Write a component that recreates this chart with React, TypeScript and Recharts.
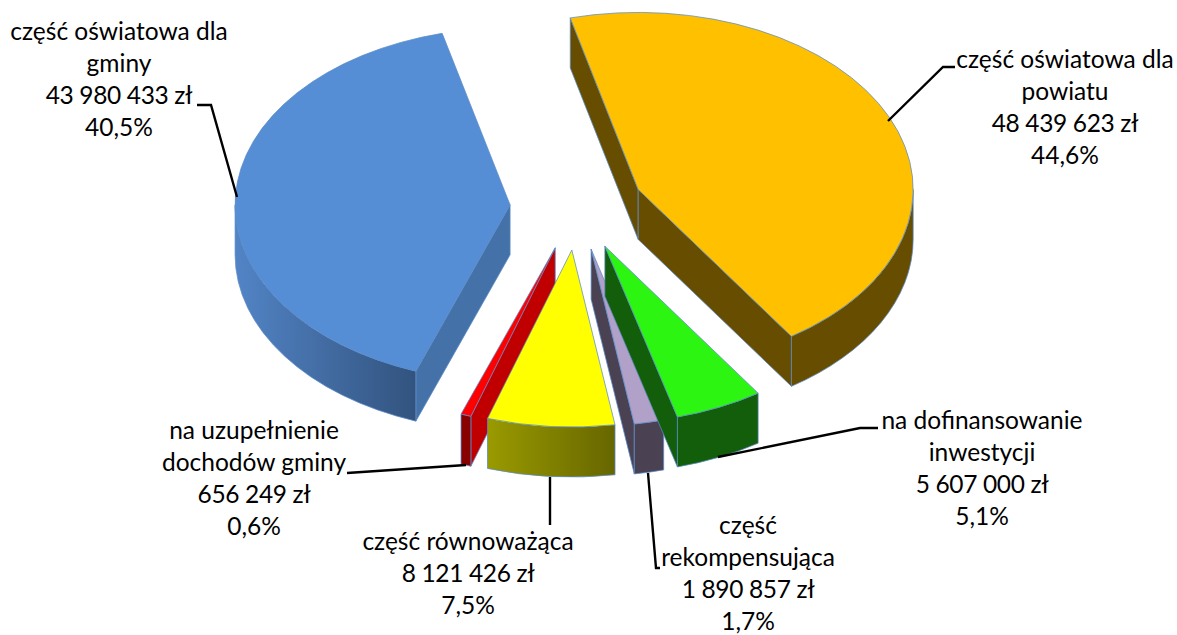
import React from "react";
import { PieChart, Pie } from "recharts";

// listed back to front, so the slices paint over each other as in a 3D pie
const categories = [
  "część oświatowa dla gminy",
  "na uzupełnienie dochodów gminy",
  "część równoważąca",
  "część rekompensująca",
  "na dofinansowanie inwestycji",
  "część oświatowa dla powiatu",
];
const values = [43980433, 656249, 8121426, 1890857, 5607000, 48439623];
const amountLabels = ["43 980 433 zł", "656 249 zł", "8 121 426 zł", "1 890 857 zł", "5 607 000 zł", "48 439 623 zł"];
const percentLabels = ["40,5%", "0,6%", "7,5%", "1,7%", "5,1%", "44,6%"];
const nameLines = [
  ["część oświatowa dla", "gminy"],
  ["na uzupełnienie", "dochodów gminy"],
  ["część równoważąca"],
  ["część", "rekompensująca"],
  ["na dofinansowanie", "inwestycji"],
  ["część oświatowa dla", "powiatu"],
];

const topColors = ["#558ED5", "#FF0000", "#FFFF00", "#B1A0C7", "#2CF512", "#FFC000"];
const wallColors = ["#4472A8", "#C00000", "#666600", "#4A4252", "#125E0A", "#664D00"];
const arcFrom = ["#5284C6", "#880000", "#9A9A00", "#4A4252", "#125E0A", "#664D00"];
const arcTo = ["#32537E", "#880000", "#666600", "#4A4252", "#125E0A", "#664D00"];

// label placement, kept apart from the values
const labelAnchors = [
  { x: 119, y: 40 },
  { x: 254, y: 439 },
  { x: 468, y: 550 },
  { x: 748, y: 534 },
  { x: 982, y: 429 },
  { x: 1065, y: 68 },
];
const leaders = [
  "197,105 211,105 237,197",
  "347,473 466,465",
  "550,525 550,477",
  "660,568 656,568 648,473",
  "878,428 860,428 718,457",
  "955,67 943,67 888,121",
];

const WIDTH = 1177;
const HEIGHT = 635;
const RADIUS = 275;
const TILT = 177 / 275;
const DEPTH = 50;
const EXPLODE = 67;
const LINE = 32;
const OUTLINE = "#5B8BC8";

const chartData = categories.map((name, i) => ({ name, value: values[i] }));

const rim = (ox: number, oy: number, clock: number) => {
  const r = (clock * Math.PI) / 180;
  return [ox + RADIUS * Math.sin(r), oy - RADIUS * TILT * Math.cos(r)];
};

const Slice3D = (props: any) => {
  const { cx, cy, startAngle, endAngle, index } = props;
  // clockwise degrees from 12 o'clock
  let from = 90 - Math.max(startAngle, endAngle);
  let to = 90 - Math.min(startAngle, endAngle);
  while (from < -90) {
    from += 360;
    to += 360;
  }
  const mid = ((from + to) / 2) * (Math.PI / 180);
  const ox = cx + EXPLODE * Math.sin(mid);
  const oy = cy - EXPLODE * TILT * Math.cos(mid);
  const [sx, sy] = rim(ox, oy, from);
  const [ex, ey] = rim(ox, oy, to);
  const large = to - from > 180 ? 1 : 0;
  const ry = RADIUS * TILT;
  const common = { stroke: OUTLINE, strokeWidth: 0.75, strokeLinejoin: "round" as const };

  const lo = Math.max(from, 90);
  const hi = Math.min(to, 270);
  let arcWall = null;
  if (hi > lo) {
    const [ax, ay] = rim(ox, oy, lo);
    const [bx, by] = rim(ox, oy, hi);
    arcWall = (
      <path
        d={`M${ax},${ay} A${RADIUS},${ry} 0 0 1 ${bx},${by} L${bx},${by + DEPTH} A${RADIUS},${ry} 0 0 0 ${ax},${ay + DEPTH} Z`}
        fill={`url(#arc-${index})`}
        {...common}
      />
    );
  }

  // a cut face only shows when going straight down leaves the slice
  const showStart = Math.sin((from * Math.PI) / 180) < 0;
  const showEnd = Math.sin((to * Math.PI) / 180) > 0;

  return (
    <g>
      <defs>
        <linearGradient id={`arc-${index}`} x1="0" y1="0" x2="1" y2="0">
          <stop offset="0" stopColor={arcFrom[index]} />
          <stop offset="1" stopColor={arcTo[index]} />
        </linearGradient>
      </defs>
      {showStart && (
        <path
          d={`M${ox},${oy} L${sx},${sy} L${sx},${sy + DEPTH} L${ox},${oy + DEPTH} Z`}
          fill={wallColors[index]}
          {...common}
        />
      )}
      {showEnd && (
        <path
          d={`M${ox},${oy} L${ex},${ey} L${ex},${ey + DEPTH} L${ox},${oy + DEPTH} Z`}
          fill={wallColors[index]}
          {...common}
        />
      )}
      {arcWall}
      <path
        d={`M${ox},${oy} L${sx},${sy} A${RADIUS},${ry} 0 ${large} 1 ${ex},${ey} Z`}
        fill={topColors[index]}
        {...common}
      />
    </g>
  );
};

const SliceLabel = (props: any) => {
  const { index } = props;
  const names = nameLines[index];
  const lines = [...names, amountLabels[index], percentLabels[index]];
  const pos = labelAnchors[index];
  return (
    <g>
      <polyline points={leaders[index]} fill="none" stroke="#000" strokeWidth={2.4} />
      <text textAnchor="middle" fontFamily="Lato, sans-serif" fontSize={24.5} fill="#000">
        {lines.map((line, i) => (
          <tspan key={i} x={pos.x} y={pos.y + i * LINE} letterSpacing={i === names.length ? -0.35 : 0}>
            {line}
          </tspan>
        ))}
      </text>
    </g>
  );
};

export default function App() {
  return (
    <div style={{ position: "absolute", left: 0, top: 0, width: WIDTH, height: HEIGHT, background: "#fff" }}>
      <PieChart width={WIDTH} height={HEIGHT} margin={{ top: 0, right: 0, bottom: 0, left: 0 }}>
        <Pie
          data={chartData}
          dataKey="value"
          nameKey="name"
          cx={577}
          cy={207}
          innerRadius={0}
          outerRadius={RADIUS}
          startAngle={104.3}
          endAngle={464.3}
          paddingAngle={0}
          stroke="none"
          shape={Slice3D}
          label={SliceLabel}
          labelLine={false}
          isAnimationActive={false}
        />
      </PieChart>
    </div>
  );
}
